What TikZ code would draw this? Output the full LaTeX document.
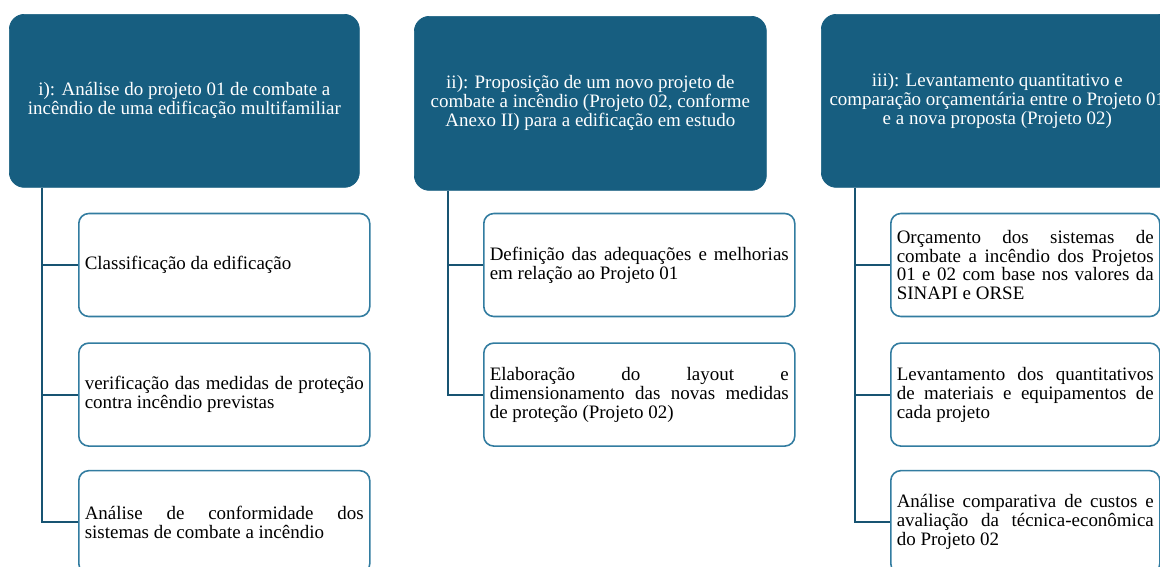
\documentclass[tikz,border=0pt]{standalone}
\usepackage{fontspec}
\setmainfont{Liberation Serif}
\usetikzlibrary{positioning}

\newlength\px
\setlength\px{0.02cm}
\lineskiplimit=-20pt
\hyphenpenalty=10000
\exhyphenpenalty=10000
\tolerance=10000
\definecolor{headfill}{RGB}{23,94,128}
\definecolor{boxline}{RGB}{50,124,160}
\definecolor{linkcol}{RGB}{24,84,114}

\begin{document}
\begin{tikzpicture}[x=1\px,y=-1\px,node distance=26\px,
    font=\fontsize{10.8}{10.8}\selectfont,
    head/.style={rectangle,rounded corners=15\px,fill=headfill,draw=headfill,text=white,
      align=center,anchor=north west,minimum width=350\px,minimum height=173\px},
    item/.style={rectangle,rounded corners=10\px,draw=boxline,line width=0.9pt,fill=white,
      align=justify,inner xsep=6\px,minimum height=103\px},
    link/.style={draw=linkcol,line width=1.2pt}]
    \useasboundingbox (0,0) rectangle (1160,566);
    \clip (0,0) rectangle (1160,566);

    % top level boxes
    \node[head] (h1) at (9,14) {i): Análise do projeto 01 de combate a\\incêndio de uma edificação multifamiliar};
    \node[head,minimum width=352\px,minimum height=174\px] (h2) at (414,16) {ii): Proposição de um novo projeto de\\combate a incêndio (Projeto 02, conforme\\Anexo II) para a edificação em estudo};
    \node[head,minimum width=352\px] (h3) at (821,14) {iii): Levantamento quantitativo e\\comparação orçamentária entre o Projeto 01\\e a nova proposta (Projeto 02)};

    % column i
    \node[item,text width=279\px,below right=25\px and 69\px of h1.south west] (c11) {Classificação da edificação};
    \node[item,text width=279\px,below=25\px of c11] (c12) {verificação das medidas de proteção contra incêndio previstas};
    \node[item,text width=279\px,below=23\px of c12] (c13) {Análise de conformidade dos sistemas de combate a incêndio};

    % column ii
    \node[item,text width=299\px,below right=22\px and 69\px of h2.south west] (c21) {Definição das adequações e melhorias em relação ao Projeto 01};
    \node[item,text width=299\px,below=25\px of c21] (c22) {Elaboração do layout e dimensionamento das novas medidas de proteção (Projeto 02)};

    % column iii
    \node[item,text width=257\px,below right=25\px and 69\px of h3.south west] (c31) {Orçamento dos sistemas de combate a incêndio dos Projetos 01 e 02 com base nos valores da SINAPI e ORSE};
    \node[item,text width=257\px,below=25\px of c31] (c32) {Levantamento dos quantitativos de materiais e equipamentos de cada projeto};
    \node[item,text width=257\px,below=23\px of c32] (c33) {Análise comparativa de custos e avaliação da técnica-econômica do Projeto 02};

    \coordinate[xshift=33\px] (t1) at (h1.south west);
    \coordinate[xshift=34\px] (t2) at (h2.south west);
    \coordinate[xshift=34\px] (t3) at (h3.south west);

    \draw[link] (t1) |- (c13.west);
    \draw[link] (t1 |- c11.west) -- (c11.west);
    \draw[link] (t1 |- c12.west) -- (c12.west);

    \draw[link] (t2) |- (c22.west);
    \draw[link] (t2 |- c21.west) -- (c21.west);

    \draw[link] (t3) |- (c33.west);
    \draw[link] (t3 |- c31.west) -- (c31.west);
    \draw[link] (t3 |- c32.west) -- (c32.west);
\end{tikzpicture}
\end{document}
